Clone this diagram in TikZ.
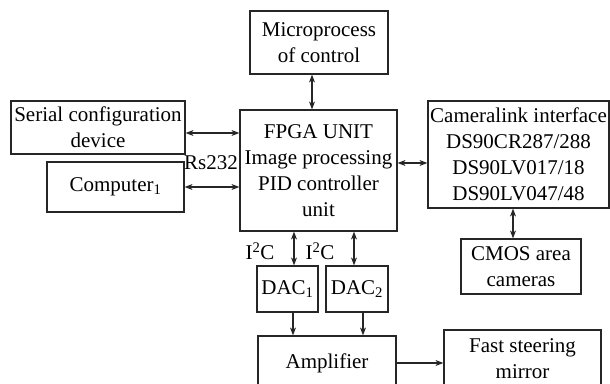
\documentclass[tikz,border=0pt]{standalone}
\usepackage{fontspec}
\setmainfont{Liberation Serif}
\usetikzlibrary{arrows.meta}
\begin{document}
\begin{tikzpicture}[x=1pt,y=-1pt,
  box/.style={draw=black!85, line width=1.2pt, rectangle, align=center, inner sep=0pt,
    font=\fontsize{21}{26}\selectfont},
  lbl/.style={inner sep=0pt, font=\fontsize{21}{26}\selectfont},
  arr/.style={line width=1.2pt, draw=black!85, {Stealth[length=8pt,width=6pt]}-{Stealth[length=8pt,width=6pt]}},
  one/.style={line width=1.2pt, draw=black!85, -{Stealth[length=8pt,width=6pt]}}]
\useasboundingbox (0,0) rectangle (610,383);
\clip (0,0) rectangle (610,383);
\fill[white] (0,0) rectangle (610,383);
\node[box, minimum width=138pt, minimum height=63pt] (micro) at (319,42.5) {Microprocess\\of control};
\node[box, minimum width=174pt, minimum height=53pt] (serial) at (98,127.5) {Serial configuration\\device};
\node[box, minimum width=137pt, minimum height=50pt] (comp) at (115.5,187) {Computer\textsubscript{1}};
\node[box, minimum width=157pt, minimum height=121pt] (fpga) at (318.5,170.5) {FPGA UNIT\\Image processing\\PID controller\\unit};
\node[box, minimum width=181pt, minimum height=107pt] (cam) at (518.5,154.5) {Cameralink interface\\DS90CR287/288\\DS90LV017/18\\DS90LV047/48};
\node[box, minimum width=120pt, minimum height=55pt] (cmos) at (521,266.5) {CMOS area\\cameras};
\node[box, minimum width=61pt, minimum height=46pt] (dac1) at (287.5,289) {DAC\textsubscript{1}};
\node[box, minimum width=62pt, minimum height=46pt] (dac2) at (357,289) {DAC\textsubscript{2}};
\node[box, minimum width=138pt, minimum height=54pt] (amp) at (327,363) {Amplifier};
\node[box, minimum width=157pt, minimum height=58pt] (fsm) at (522.5,359) {Fast steering\\mirror};
\node[lbl] (rs) at (211,163) {Rs232};
\node[lbl] (i2ca) at (260,251) {I\textsuperscript{2}C};
\node[lbl] (i2cb) at (320,251) {I\textsuperscript{2}C};
\draw[arr] ([xshift=-7pt]micro.south) -- ([xshift=-7pt]micro.south |- fpga.north);
\draw[arr] ([yshift=-5.5pt]serial.east) -- ([yshift=-5.5pt]serial.east -| fpga.west);
\draw[arr] (comp.east) -- (comp.east -| fpga.west);
\draw[arr] ([yshift=7.5pt]fpga.east) -- ([yshift=7.5pt]fpga.east -| cam.west);
\draw[arr] ([xshift=-5.5pt]cam.south) -- ([xshift=-5.5pt]cam.south |- cmos.north);
\draw[arr] ([xshift=6.5pt]dac1.north |- fpga.south) -- ([xshift=6.5pt]dac1.north);
\draw[arr] ([xshift=-3pt]dac2.north |- fpga.south) -- ([xshift=-3pt]dac2.north);
\draw[one] ([xshift=5.5pt]dac1.south) -- ([xshift=5.5pt]dac1.south |- amp.north);
\draw[one] ([xshift=6pt]dac2.south) -- ([xshift=6pt]dac2.south |- amp.north);
\draw[one] (amp.east) -- (amp.east -| fsm.west);
\end{tikzpicture}
\end{document}
